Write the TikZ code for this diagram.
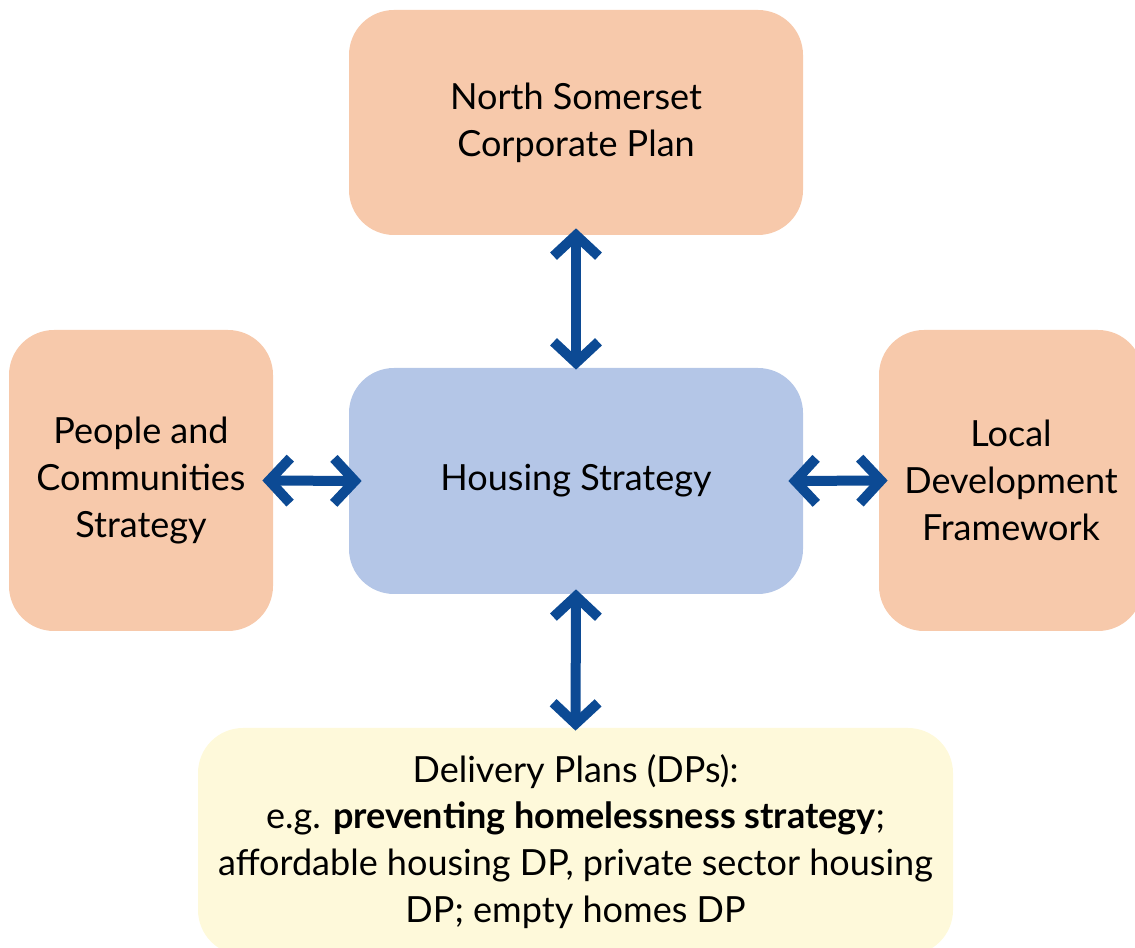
\documentclass[tikz,border=0pt]{standalone}
\usepackage{fontspec}
\setmainfont{Lato}
\usepackage{tikz}
\usetikzlibrary{arrows.meta,positioning,calc}
\usepackage{xcolor}
\definecolor{peach}{HTML}{F7C9AB}
\definecolor{paleblue}{HTML}{B4C6E7}
\definecolor{paleyellow}{HTML}{FEF9DA}
\definecolor{arrowblue}{HTML}{0C4A94}

\begin{document}
\begin{tikzpicture}[
  box/.style={rounded corners=0.9cm, text=black, align=center,
    font=\fontsize{20.5}{26.7}\selectfont, inner sep=0pt},
  link/.style={arrowblue, line width=0.2cm,
    {Straight Barb[length=0.42cm, width=0.9cm, line cap=butt, line join=miter]}-{Straight Barb[length=0.42cm, width=0.9cm, line cap=butt, line join=miter]}}
]
  \useasboundingbox (0,0) rectangle (22.7,18.94);

  % Boxes
  \node[box, fill=peach, minimum width=9.08cm, minimum height=4.5cm] (plan) at (11.52,16.49) {North Somerset\\Corporate Plan};
  \node[box, fill=paleblue, minimum width=9.08cm, minimum height=4.52cm] (hs) at (11.52,9.32) {Housing Strategy};
  \node[box, fill=peach, minimum width=5.28cm, minimum height=6.02cm] (pcs) at (2.82,9.33) {People and\\Communities\\Strategy};
  \node[box, fill=peach, minimum width=5.28cm, minimum height=6.02cm] (ldf) at (20.22,9.33) {Local\\Development\\Framework};
  \node[box, fill=paleyellow, minimum width=15.1cm, minimum height=4.54cm] (dp) at (11.51,2.11)
    {Delivery Plans (DPs):\\e.g. \textbf{preventing homelessness strategy};\\affordable housing DP, private sector housing\\DP; empty homes DP};

  % Links
  \draw[link] ([yshift=0.14cm]plan.south) -- ([yshift=-0.04cm]hs.north);
  \draw[link] ([yshift=0.1cm]hs.south) -- ([yshift=-0.06cm]dp.north);
  \draw[link] ([xshift=-0.22cm]pcs.east) -- ([xshift=0.26cm]hs.west);
  \draw[link] ([xshift=-0.3cm]hs.east) -- ([xshift=0.18cm]ldf.west);
\end{tikzpicture}
\end{document}
